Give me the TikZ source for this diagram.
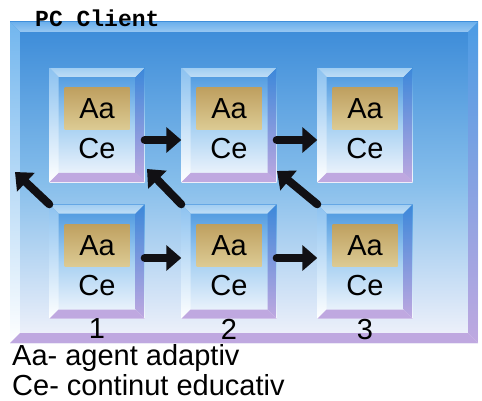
\documentclass[tikz,border=0pt]{standalone}
\usepackage{fontspec}
\setmainfont{Liberation Sans}
\newfontfamily\monofont{Liberation Mono}
\usetikzlibrary{arrows.meta,positioning}

\definecolor{panelTop}{HTML}{3A8AD8}
\definecolor{panelMid}{HTML}{86BEEB}
\definecolor{panelBot}{HTML}{F3F3FB}
\definecolor{panelHi}{HTML}{6CB0EC}
\definecolor{panelLeft}{HTML}{72B6EE}
\definecolor{panelRight}{HTML}{4C9CE4}
\definecolor{lilac}{HTML}{BFA8E0}
\definecolor{cellTop}{HTML}{4694DE}
\definecolor{cellMid}{HTML}{A6D0F2}
\definecolor{cellBot}{HTML}{F6F8FD}
\definecolor{cellHi}{HTML}{A2CEF2}
\definecolor{cellLeft}{HTML}{8CC2F0}
\definecolor{cellRight}{HTML}{3C88DA}
\definecolor{goldTop}{HTML}{BFA060}
\definecolor{goldBot}{HTML}{DCCB94}
\definecolor{ink}{HTML}{111014}

% bevelled rim: #1 width, #2 top, #3 left, #4 right, #5 bottom
\newcommand{\bevelframe}[5]{%
  \path (path picture bounding box.north west) coordinate (fnw)
        (path picture bounding box.north east) coordinate (fne)
        (path picture bounding box.south west) coordinate (fsw)
        (path picture bounding box.south east) coordinate (fse);
  \shade[top color=#2, bottom color=#2!70!white]
    (fnw) -- (fne) -- ([shift={(-#1,-#1)}]fne) -- ([shift={(#1,-#1)}]fnw) -- cycle;
  \shade[top color=#3, bottom color=white]
    (fnw) -- ([shift={(#1,-#1)}]fnw) -- ([shift={(#1,#1)}]fsw) -- (fsw) -- cycle;
  \shade[top color=#4, bottom color=#5]
    (fne) -- (fse) -- ([shift={(-#1,#1)}]fse) -- ([shift={(-#1,-#1)}]fne) -- cycle;
  \fill[#5]
    (fsw) -- ([shift={(#1,#1)}]fsw) -- ([shift={(-#1,#1)}]fse) -- (fse) -- cycle;
}

\begin{document}
\begin{tikzpicture}
        [
        x=1pt, y=-1pt,
        panel/.style={rectangle, inner sep=0pt, minimum width=468pt, minimum height=321pt,
                top color=panelTop, bottom color=panelBot, middle color=panelMid,
                path picture={\bevelframe{10pt}{panelHi}{panelLeft}{panelRight}{lilac}}},
        cell/.style={rectangle, inner sep=0pt, minimum width=95pt, minimum height=114pt,
                top color=cellTop, bottom color=cellBot, middle color=cellMid,
                path picture={\bevelframe{9pt}{cellHi}{cellLeft}{cellRight}{lilac}}},
        agent/.style={rectangle, inner sep=0pt, minimum width=65pt, minimum height=42pt,
                top color=goldTop, bottom color=goldBot, font=\fontsize{29}{31}\selectfont},
        txt/.style={inner sep=0pt, font=\fontsize{29}{31}\selectfont},
        title/.style={inner sep=0pt, font=\monofont\bfseries\fontsize{23}{25}\selectfont},
        flow/.style={ink, line width=8pt, line cap=round, -{Triangle[length=15pt,width=25pt]}},
        ]
                \useasboundingbox (0,0) rectangle (482,401);

                % client frame
                \node[panel] (pc) at (244,182.5) {};
                \node[title, anchor=base west] (pcname) at (35,27) {PC Client};

                % cells
                \foreach \c/\x/\y in {t1/97/125, t2/229/125, t3/365/125,
                                      b1/97/261.5, b2/229/261.5, b3/365/261.5} {
                        \node[cell] (\c) at (\x,\y) {};
                        \node[agent] (\c-a) at ([yshift=16pt]\c.center) {Aa};
                        \node[txt]   (\c-c) at ([yshift=-24pt]\c.center) {Ce};
                }

                % column numbers
                \foreach \c/\n in {b1/1, b2/2, b3/3}
                        \node[txt, below=0pt of \c] (n\n) {\n};

                % free ends of the upward arrows
                \coordinate (up1) at (15,172);
                \coordinate (up2) at (147,169);
                \coordinate (up3) at (277,171);

                % drawing code
                \foreach \from/\to in {t1/t2, t2/t3}
                        \draw[flow] ([yshift=-15pt]\from.east) -- ([yshift=-15pt]\to.west);
                \foreach \from/\to in {b1/b2, b2/b3}
                        \draw[flow] ([yshift=3.5pt]\from.east) -- ([yshift=3.5pt]\to.west);
                \foreach \from/\to in {b1/up1, b2/up2, b3/up3}
                        \draw[flow] (\from.north west) -- (\to);

                % legend
                \node[txt, anchor=base west] (key1) at (12,365) {Aa- agent adaptiv};
                \node[txt, anchor=base west] (key2) at (12,395.5) {Ce- continut educativ};
        \end{tikzpicture}
\end{document}
